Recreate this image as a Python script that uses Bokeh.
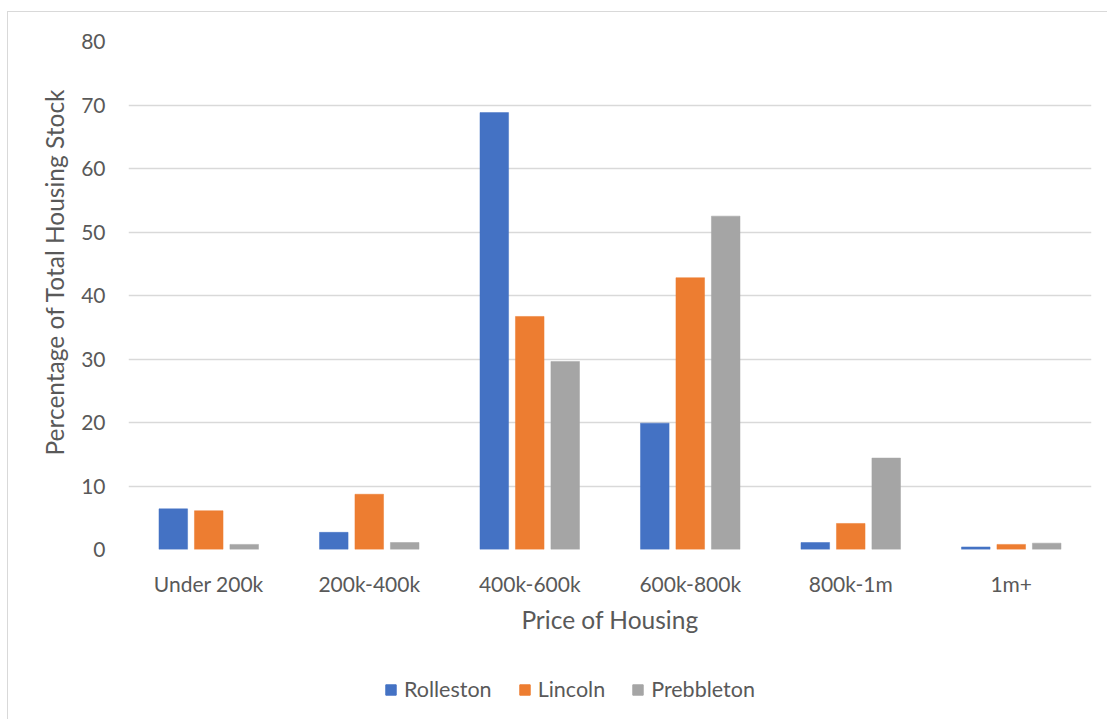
from bokeh.plotting import figure
from bokeh.layouts import column
from bokeh.models import (ColumnDataSource, FactorRange, Range1d, FixedTicker,
                          Legend, LegendItem, Title)
from bokeh.transform import dodge
from bokeh.embed import file_html
from bokeh.resources import INLINE

# Share of housing stock (%) in each price band, by township
price_bands = ["Under 200k", "200k-400k", "400k-600k", "600k-800k", "800k-1m", "1m+"]
rolleston = [6.4, 2.7, 68.8, 19.9, 1.1, 0.4]
lincoln = [6.1, 8.7, 36.7, 42.8, 4.1, 0.8]
prebbleton = [0.8, 1.1, 29.6, 52.5, 14.4, 1.0]
y_ticks = [0, 10, 20, 30, 40, 50, 60, 70, 80]

series = [("Rolleston", rolleston, "#4472C4", -0.221),
          ("Lincoln", lincoln, "#ED7D31", 0.0),
          ("Prebbleton", prebbleton, "#A5A5A5", 0.221)]

FONT = "Lato"
TEXT = "#595959"
GRID = "#D9D9D9"

source = ColumnDataSource(dict(band=price_bands, Rolleston=rolleston,
                               Lincoln=lincoln, Prebbleton=prebbleton))

# ---- main chart ----
p = figure(width=1099, height=640, output_backend="svg", toolbar_location=None,
           x_range=FactorRange(*price_bands, range_padding=0),
           y_range=Range1d(0, 80),
           min_border_left=120, min_border_right=16,
           min_border_top=29, min_border_bottom=103)
p.outline_line_color = None
p.background_fill_color = "white"
p.border_fill_color = "white"

for name, vals, color, off in series:
    p.vbar(x=dodge("band", off, range=p.x_range), top=name, width=0.178,
           source=source, fill_color=color, line_color=color, line_width=0.5)

p.yaxis.ticker = FixedTicker(ticks=y_ticks)
p.yaxis.axis_line_color = None
p.yaxis.major_tick_line_color = None
p.yaxis.minor_tick_line_color = None
p.yaxis.major_label_standoff = 17

p.xaxis.axis_line_color = None
p.xaxis.major_tick_line_color = None
p.xaxis.minor_tick_line_color = None
p.xaxis.major_label_standoff = 15
p.xaxis.axis_label = "Price of Housing"
p.xaxis.axis_label_standoff = 6

for ax in (p.xaxis, p.yaxis):
    ax.major_label_text_font = FONT
    ax.major_label_text_font_size = "21px"
    ax.major_label_text_color = TEXT
    ax.axis_label_text_font = FONT
    ax.axis_label_text_font_size = "24.5px"
    ax.axis_label_text_font_style = "normal"
    ax.axis_label_text_color = TEXT

# vertical axis title, anchored from the bottom of the plot area
p.add_layout(Title(text="Percentage of Total Housing Stock", align="left",
                   offset=94, vertical_align="middle", standoff=18,
                   text_font=FONT, text_font_size="24.5px",
                   text_font_style="normal", text_color=TEXT), "left")

p.xgrid.grid_line_color = None
p.ygrid.grid_line_color = GRID
p.ygrid.grid_line_width = 1.4

# ---- legend strip ----
leg = figure(width=1099, height=67, output_backend="svg", toolbar_location=None,
             x_range=p.x_range, y_range=Range1d(1000, 1001),
             x_axis_type=None, y_axis_type=None,
             min_border_left=0, min_border_right=0,
             min_border_top=0, min_border_bottom=0)
leg.outline_line_color = None
leg.grid.visible = False
leg.border_fill_color = "white"

items = []
for name, vals, color, off in series:
    r = leg.vbar(x=dodge("band", off, range=leg.x_range), top=name, width=0.178,
                 source=source, fill_color=color, line_color=color)
    items.append(LegendItem(label=name, renderers=[r]))

legend = Legend(items=items, orientation="horizontal", location=(256, 17),
                glyph_width=13, glyph_height=13, label_standoff=7, spacing=26,
                padding=0, margin=0, border_line_color=None,
                background_fill_alpha=0,
                label_text_font=FONT, label_text_font_size="21.5px",
                label_text_color=TEXT)
leg.add_layout(legend, "center")

# chart area with a light border on its left and top edges
chart = column(p, leg, spacing=0)
chart.margin = (11, 0, 0, 7)
chart.styles = {"border-left": "1px solid #D9D9D9", "border-top": "1px solid #D9D9D9"}

open("out.html", "w").write(file_html(chart, INLINE))
